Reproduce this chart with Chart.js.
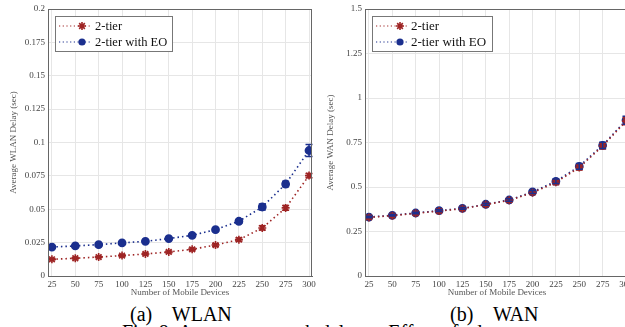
<!DOCTYPE html>
<html>
<head>
<meta charset="utf-8">
<script src="https://cdn.jsdelivr.net/npm/chart.js@4/dist/chart.umd.min.js"></script>
<style>
body { margin: 0; background: #fff; width: 625px; height: 327px; overflow: hidden; position: relative; font-family: 'Liberation Serif', 'Times New Roman', serif; }
.box { position: absolute; top: 0; height: 298px; }
#a { left: 0; width: 320px; }
#b { left: 317px; width: 320px; }
.cap { position: absolute; font-size: 20px; line-height: 22px; color: #000; white-space: pre; }
</style>
</head>
<body>
<div class="box" id="a"><canvas id="wlan"></canvas></div>
<div class="box" id="b"><canvas id="wan"></canvas></div>
<div class="cap" style="left:130px;top:303px">(a)    WLAN</div>
<div class="cap" style="left:450px;top:303px">(b)    WAN</div>
<div class="cap" style="left:122px;top:321px">Fig. 8: Average network delay –  Effect of edge</div>
<script>
var devices = [25, 50, 75, 100, 125, 150, 175, 200, 225, 250, 275, 300];

// WLAN delay (sec)
var wlanTier2 = [0.0125, 0.0133, 0.0142, 0.0153, 0.0165, 0.018, 0.020, 0.0232, 0.0272, 0.036, 0.051, 0.0752];
var wlanTier2Err = [0.0006, 0.0006, 0.0006, 0.0007, 0.0007, 0.0008, 0.0009, 0.001, 0.0012, 0.0016, 0.0018, 0.0016];
var wlanEO = [0.0217, 0.0225, 0.0235, 0.0248, 0.026, 0.028, 0.0305, 0.0347, 0.041, 0.0517, 0.0689, 0.094];
var wlanEOErr = [0.0005, 0.0005, 0.0005, 0.0006, 0.0006, 0.0007, 0.0008, 0.001, 0.0014, 0.0022, 0.002, 0.0045];

// WAN delay (sec)
var wanTier2 = [0.329, 0.339, 0.352, 0.365, 0.378, 0.401, 0.425, 0.468, 0.526, 0.61, 0.73, 0.87];
var wanTier2Err = [0.004, 0.004, 0.004, 0.005, 0.005, 0.006, 0.007, 0.009, 0.012, 0.014, 0.016, 0.02];
var wanEO = [0.331, 0.341, 0.354, 0.367, 0.380, 0.403, 0.427, 0.472, 0.532, 0.616, 0.734, 0.875];
var wanEOErr = [0.004, 0.004, 0.004, 0.005, 0.005, 0.006, 0.007, 0.009, 0.013, 0.016, 0.018, 0.022];

var wlanTicks = [0, 0.025, 0.05, 0.075, 0.1, 0.125, 0.15, 0.175, 0.2];
var wanTicks = [0, 0.25, 0.5, 0.75, 1, 1.25, 1.5];

var RED = '#9e2424';
var BLUE = '#1b2f8e';
var SERIF = "'Liberation Serif', 'Times New Roman', serif";

function pts(ys) {
    return devices.map(function(x, i) { return {x: x, y: ys[i]}; });
}

var errorBars = {
    id: 'errorBars',
    afterDatasetsDraw: function(chart) {
        var ctx = chart.ctx, ys = chart.scales.y;
        chart.data.datasets.forEach(function(ds, di) {
            var meta = chart.getDatasetMeta(di);
            ctx.save();
            ctx.strokeStyle = ds.borderColor;
            ctx.lineWidth = 1.5;
            meta.data.forEach(function(p, i) {
                var v = ds.data[i].y, e = ds.errors[i];
                var y1 = ys.getPixelForValue(v - e), y2 = ys.getPixelForValue(v + e);
                ctx.beginPath();
                ctx.moveTo(p.x, y1); ctx.lineTo(p.x, y2);
                ctx.moveTo(p.x - 3.5, y1); ctx.lineTo(p.x + 3.5, y1);
                ctx.moveTo(p.x - 3.5, y2); ctx.lineTo(p.x + 3.5, y2);
                ctx.stroke();
            });
            ctx.restore();
        });
    }
};

var frame = {
    id: 'frame',
    afterDraw: function(chart, args, opts) {
        var ctx = chart.ctx, a = chart.chartArea;
        ctx.save();
        ctx.strokeStyle = '#666';
        ctx.lineWidth = 1;
        ctx.strokeRect(a.left + 0.5, a.top + 0.5, a.right - a.left - 1, a.bottom - a.top);
        // legend
        var lx = a.left + opts.x, ly = a.top + opts.y;
        ctx.fillStyle = '#fff';
        ctx.fillRect(lx, ly, opts.w, opts.h);
        ctx.strokeStyle = '#777';
        ctx.strokeRect(lx + 0.5, ly + 0.5, opts.w, opts.h);
        ctx.font = opts.size + 'px ' + SERIF;
        ctx.textBaseline = 'middle';
        chart.data.datasets.forEach(function(ds, i) {
            var y = ly + opts.row0 + i * opts.rowH;
            ctx.strokeStyle = ds.borderColor;
            ctx.lineWidth = 1.2;
            ctx.setLineDash([1.2, 2.5]);
            ctx.beginPath();
            ctx.moveTo(lx + 4, y); ctx.lineTo(lx + opts.textX - 4, y);
            ctx.stroke();
            ctx.setLineDash([]);
            ctx.fillStyle = ds.borderColor;
            ctx.strokeStyle = ds.borderColor;
            ctx.lineWidth = 1.6;
            if (ds.pointStyle === 'star') {
                Chart.helpers.drawPoint(ctx, {pointStyle: 'star', radius: ds.pointRadius, borderWidth: 1.6}, lx + opts.markX, y);
            } else {
                ctx.beginPath();
                ctx.arc(lx + opts.markX, y, ds.pointRadius, 0, Math.PI * 2);
                ctx.fill();
            }
            ctx.fillStyle = '#111';
            ctx.fillText(ds.label, lx + opts.textX, y + 1);
        });
        ctx.restore();
    }
};

function series(label, ys, errs, color, style) {
    return {
        label: label,
        data: pts(ys),
        errors: errs,
        borderColor: color,
        backgroundColor: color,
        pointBackgroundColor: color,
        pointBorderColor: color,
        pointStyle: style,
        pointRadius: style === 'star' ? 4 : 3.6,
        borderWidth: 1.6,
        borderDash: [1.5, 3],
        tension: 0,
        fill: false
    };
}

function makeChart(id, title, sets, maxY, ticks, fs, legendOpts) {
    return new Chart(document.getElementById(id), {
        type: 'line',
        data: { datasets: sets },
        options: {
            responsive: true,
            maintainAspectRatio: false,
            animation: false,
            layout: { padding: { top: 9, right: 8, left: 0, bottom: 0 } },
            plugins: {
                legend: { display: false },
                tooltip: { enabled: false },
                frame: legendOpts
            },
            scales: {
                x: {
                    type: 'linear',
                    min: 20.8,
                    max: 303.2,
                    afterBuildTicks: function(s) { s.ticks = devices.map(function(v) { return {value: v}; }); },
                    afterFit: function(s) { s.height = 22; },
                    grid: { color: '#e6e6e6', drawTicks: false },
                    border: { color: '#666' },
                    ticks: { color: '#444', font: { family: SERIF, size: fs }, padding: 3, maxRotation: 0, autoSkip: false,
                             callback: function(v) { return String(v); } },
                    title: { display: true, text: 'Number of Mobile Devices', color: '#555', font: { family: SERIF, size: 9 }, padding: 0 }
                },
                y: {
                    min: 0,
                    max: maxY,
                    afterBuildTicks: function(s) { s.ticks = ticks.map(function(v) { return {value: v}; }); },
                    afterFit: function(s) { s.width = 48; },
                    grid: { color: '#e6e6e6', drawTicks: false },
                    border: { color: '#666' },
                    ticks: { color: '#444', font: { family: SERIF, size: fs }, padding: 3,
                             callback: function(v) { return String(v); } },
                    title: { display: true, text: title, color: '#555', font: { family: SERIF, size: 9 }, padding: { top: 8, bottom: 0 } }
                }
            }
        },
        plugins: [errorBars, frame]
    });
}

makeChart('wlan', 'Average WLAN Delay (sec)', [
    series('2-tier', wlanTier2, wlanTier2Err, RED, 'star'),
    series('2-tier with EO', wlanEO, wlanEOErr, BLUE, 'circle')
], 0.2, wlanTicks, 9, { x: 7, y: 7, w: 117, h: 35, row0: 10, rowH: 16, markX: 27, textX: 40, size: 12.5 });

makeChart('wan', 'Average WAN Delay (sec)', [
    series('2-tier', wanTier2, wanTier2Err, RED, 'star'),
    series('2-tier with EO', wanEO, wanEOErr, BLUE, 'circle')
], 1.5, wanTicks, 9, { x: 7, y: 7, w: 120, h: 35, row0: 10, rowH: 16, markX: 28, textX: 39, size: 13 });
</script>
</body>
</html>
